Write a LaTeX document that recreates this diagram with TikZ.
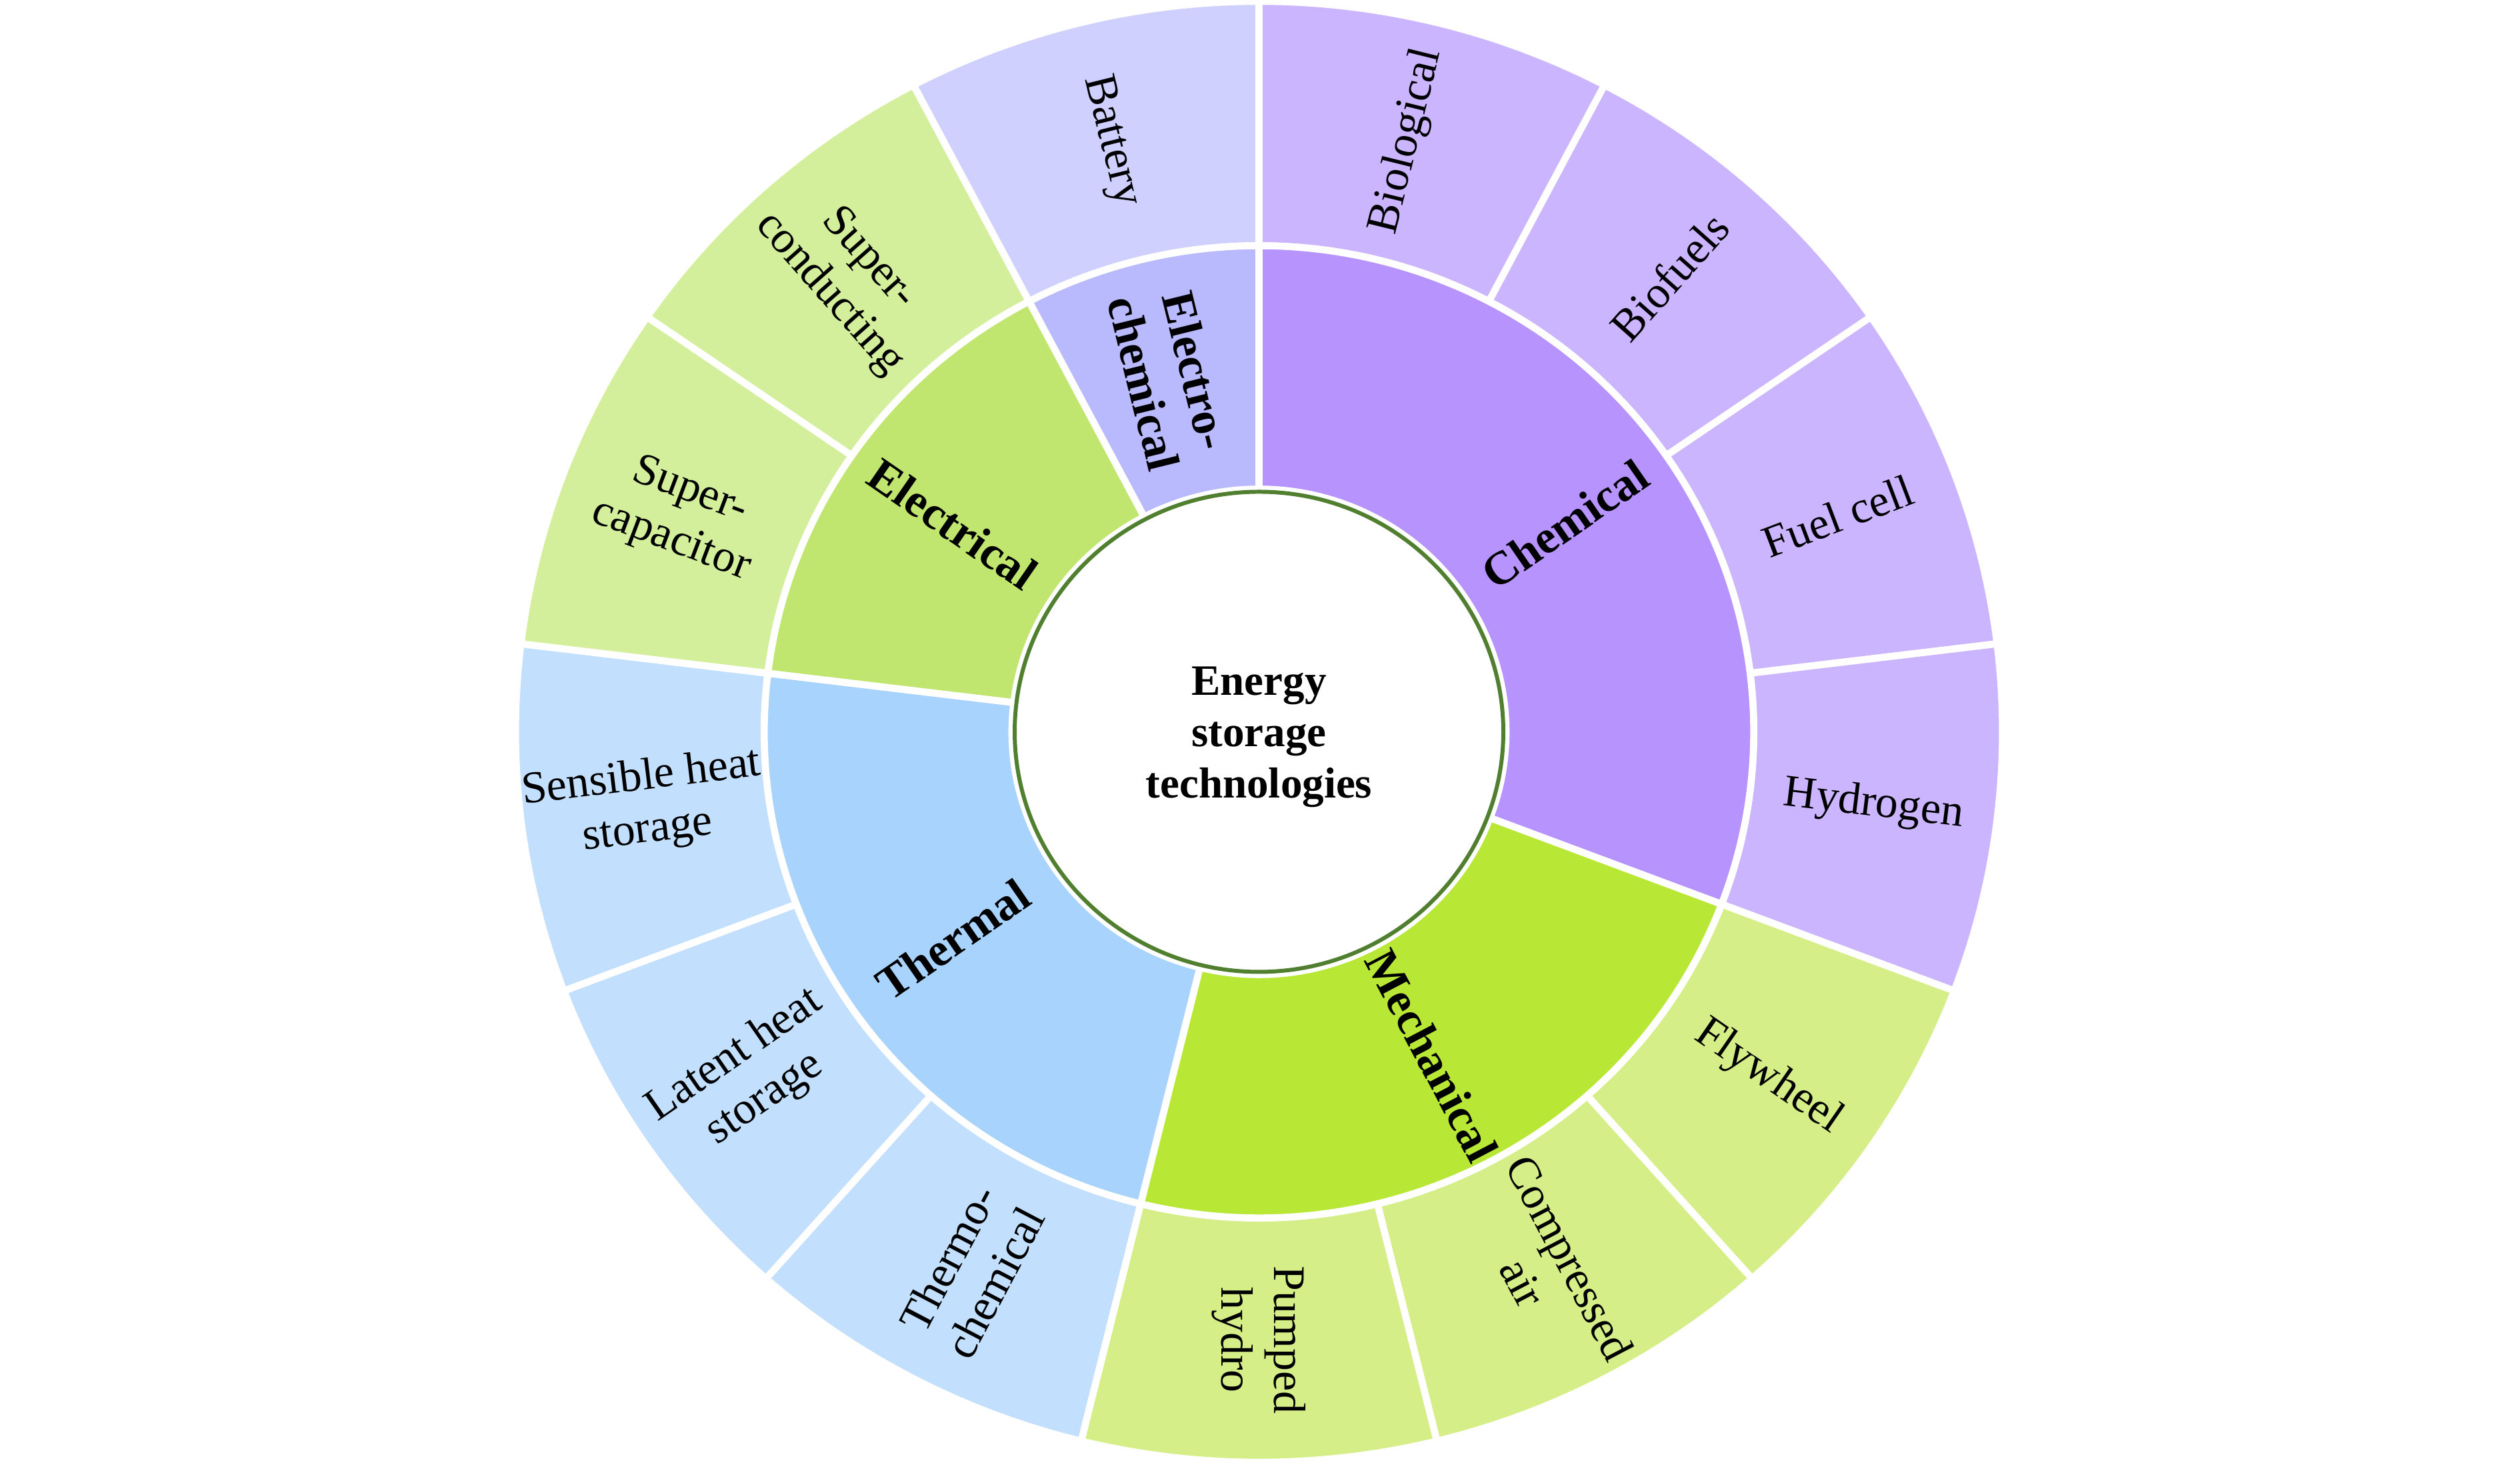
\documentclass[tikz,border=0pt]{standalone}
\usepackage{fontspec}
\setmainfont{Liberation Serif}
\definecolor{chemI}{HTML}{B693FD}
\definecolor{chemO}{HTML}{CBB5FE}
\definecolor{mechI}{HTML}{B8E835}
\definecolor{mechO}{HTML}{D6EE88}
\definecolor{therI}{HTML}{A8D3FD}
\definecolor{therO}{HTML}{C2E0FE}
\definecolor{elecI}{HTML}{C0E66F}
\definecolor{elecO}{HTML}{D4EF9B}
\definecolor{echeI}{HTML}{B9B9FD}
\definecolor{echeO}{HTML}{D0D0FE}
\definecolor{ringgreen}{HTML}{4F7F2F}
\newcommand{\wedgeseg}[5]{%
  \pgfmathsetmacro{\wa}{90-#2}\pgfmathsetmacro{\wb}{90-#3}%
  \filldraw[fill=#1, segline] (\wa:#4) arc[start angle=\wa, end angle=\wb, radius=#4]
    -- (\wb:#5) arc[start angle=\wb, end angle=\wa, radius=#5] -- cycle;}
\begin{document}
\begin{tikzpicture}[
  segline/.style={draw=white, line width=3pt, line join=miter},
  leaf/.style={font=\fontsize{19.3}{22.5}\selectfont, align=center, inner sep=0pt},
  cat/.style={font=\fontsize{20}{23}\selectfont\bfseries, align=center, inner sep=0pt},
  hub/.style={font=\fontsize{18.5}{22}\selectfont\bfseries, align=center, inner sep=0pt},
]
\useasboundingbox (0,0) rectangle (37.8,21.97);
\begin{scope}[shift={(18.885,10.995)}, xscale=1.018]
\def\rA{3.64}\def\rB{7.29}\def\rC{10.955}
\def\dang{27.6923}
% outer ring
\wedgeseg{chemO}{0}{27.6923}{\rB}{\rC}
\wedgeseg{chemO}{27.6923}{55.3846}{\rB}{\rC}
\wedgeseg{chemO}{55.3846}{83.0769}{\rB}{\rC}
\wedgeseg{chemO}{83.0769}{110.7692}{\rB}{\rC}
\wedgeseg{mechO}{110.7692}{138.4615}{\rB}{\rC}
\wedgeseg{mechO}{138.4615}{166.1538}{\rB}{\rC}
\wedgeseg{mechO}{166.1538}{193.8462}{\rB}{\rC}
\wedgeseg{therO}{193.8462}{221.5385}{\rB}{\rC}
\wedgeseg{therO}{221.5385}{249.2308}{\rB}{\rC}
\wedgeseg{therO}{249.2308}{276.9231}{\rB}{\rC}
\wedgeseg{elecO}{276.9231}{304.6154}{\rB}{\rC}
\wedgeseg{elecO}{304.6154}{332.3077}{\rB}{\rC}
\wedgeseg{echeO}{332.3077}{360}{\rB}{\rC}
% inner ring
\wedgeseg{chemI}{0}{110.7692}{\rA}{\rB}
\wedgeseg{mechI}{110.7692}{193.8462}{\rA}{\rB}
\wedgeseg{therI}{193.8462}{276.9231}{\rA}{\rB}
\wedgeseg{elecI}{276.9231}{332.3077}{\rA}{\rB}
\wedgeseg{echeI}{332.3077}{360}{\rA}{\rB}
% hub
\filldraw[fill=white, draw=ringgreen, line width=1.7pt] (0,0) circle[radius=3.60];
\node[hub] (hubtext) at (0,-0.08) {Energy\\storage\\technologies};
% category labels
\node[cat, rotate=34.62] (chemical) at (34.62:5.48) {Chemical};
\node[cat, rotate=-62.31] (mechanical) at (-62.31:5.48) {Mechanical};
\node[cat, rotate=34.62] (thermal) at (-145.38:5.48) {Thermal};
\node[cat, rotate=-34.62] (electrical) at (145.38:5.48) {Electrical};
\node[cat, rotate=-76.15] (electrochemical) at (103.85:5.48) {Electro-\\chemical};
% leaf labels
\def\rL{9.12}
\node[leaf, rotate=76.15] (biological) at (76.15:\rL) {Biological};
\node[leaf, rotate=48.46] (biofuels) at (48.46:\rL) {Biofuels};
\node[leaf, rotate=20.77] (fuelcell) at (20.77:\rL) {Fuel cell};
\node[leaf, rotate=-6.92] (hydrogen) at (-6.92:\rL) {Hydrogen};
\node[leaf, rotate=-34.62] (flywheel) at (-34.62:\rL) {Flywheel};
\node[leaf, rotate=-62.31] (compressed) at (-62.31:\rL) {Compressed\\air};
\node[leaf, rotate=-90] (pumped) at (-90:\rL) {Pumped\\hydro};
\node[leaf, rotate=62.31] (thermochem) at (-117.69:\rL) {Thermo-\\chemical};
\node[leaf, rotate=34.62] (latent) at (-145.38:\rL) {Latent heat\\storage};
\node[leaf, rotate=6.92] (sensible) at (-173.08:\rL) {Sensible heat\\storage};
\node[leaf, rotate=-20.77] (supercap) at (159.23:\rL) {Super-\\capacitor};
\node[leaf, rotate=-48.46] (supercond) at (131.54:\rL) {Super-\\conducting};
\node[leaf, rotate=-76.15] (battery) at (103.85:\rL) {Battery};
\end{scope}
\end{tikzpicture}
\end{document}
